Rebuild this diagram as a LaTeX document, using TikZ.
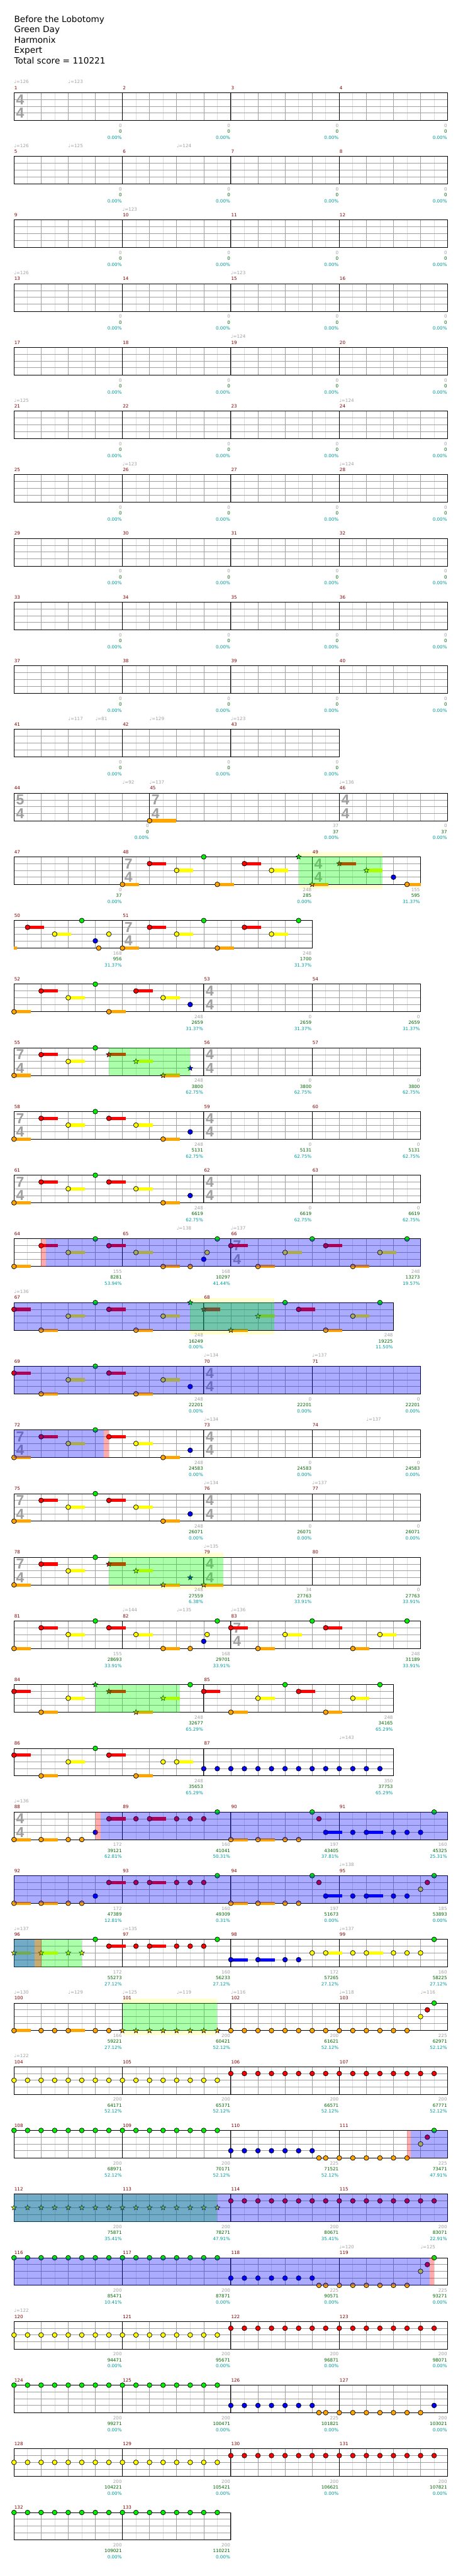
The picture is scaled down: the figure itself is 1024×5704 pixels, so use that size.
\documentclass[tikz,border=0pt]{standalone}
\usepackage{fontspec}
\setmainfont{DejaVu Sans}
\newfontfamily\sigfont{Liberation Sans}
\usetikzlibrary{shapes.geometric}
\definecolor{cG}{RGB}{0,240,0}
\definecolor{cR}{RGB}{255,0,0}
\definecolor{cY}{RGB}{255,255,0}
\definecolor{cB}{RGB}{0,0,255}
\definecolor{cO}{RGB}{255,165,0}
\definecolor{mnc}{RGB}{128,0,0}
\definecolor{gtx}{RGB}{160,160,160}
\definecolor{grtx}{RGB}{0,100,0}
\definecolor{ttx}{RGB}{0,155,155}
\definecolor{lgr}{RGB}{220,220,220}
\definecolor{bgr}{RGB}{160,160,160}
\definecolor{paleY}{RGB}{255,255,208}
\def\LG{0}\def\LR{15}\def\LY{30}\def\LB{45}\def\LO{61}
\tikzset{
 lgrid/.style={lgr,line width=0.5pt},
 bgrid/.style={bgr,line width=0.5pt},
 mline/.style={black,line width=0.65pt},
 nout/.style={draw=black,line width=0.5pt},
 starn/.style={star,star points=5,star point ratio=2.3,minimum size=6pt,inner sep=0pt,draw=black,line width=0.4pt},
 mnum/.style={anchor=base west,inner sep=0pt,text=mnc,font=\fontsize{5}{6}\selectfont},
 tmp/.style={anchor=base west,inner sep=0pt,text=gtx,font=\fontsize{5}{6}\selectfont},
 sg/.style={anchor=base east,inner sep=0pt,font=\fontsize{5}{6}\selectfont},
 tsd/.style={inner sep=0pt,text=gtx,font=\sigfont\bfseries\fontsize{16}{16}\selectfont},
 hdr/.style={anchor=base west,inner sep=0pt,font=\fontsize{9.5}{11}\selectfont},
}
\newcommand\setrow[1]{\pgfmathsetmacro\rT{205.3+141*(#1-1)}}
\newcommand\staff[2]{%
  \fill[white] (31,\rT) rectangle (#1,\rT+61);
  \pgfmathtruncatemacro\nb{(#1-31)/60}
  \foreach \i in {1,...,\nb} {\draw[lgrid] ({31+60*\i-30},\rT) -- ++(0,61);}
  \foreach \i in {1,...,\nb} {\draw[bgrid] ({31+60*\i},\rT) -- ++(0,61);}
  \foreach \yy in {15,30,45} {\draw[bgrid] (31,\rT+\yy) -- (#1,\rT+\yy);}
  \foreach \xx in {#2} {\draw[mline] (\xx,\rT) -- ++(0,61);}
  \draw[mline] (31,\rT) rectangle (#1,\rT+61);}
\newcommand\mn[2]{\node[mnum] at (#1+0.5,\rT-7.3) {#2};}
\newcommand\mfour[4]{\mn{31}{#1}\mn{271}{#2}\mn{511}{#3}\mn{751}{#4}}
\newcommand\tp[2]{\node[tmp] at (#1,\rT-20.3) {♩=#2};}
\newcommand\sco[4]{\node[sg,text=gtx] at (#1-1,\rT+76.1) {#2};\node[sg,text=grtx] at (#1-1,\rT+89.1) {#3};\node[sg,text=ttx] at (#1-1,\rT+102.6) {#4\%};}
\newcommand\ts[3]{\node[tsd] at (#1+13.5,\rT+15) {#2};\node[tsd] at (#1+13.5,\rT+45) {#3};}
\newcommand\nt[2]{\filldraw[fill=c#2,nout] ({31+60*(#1)},{\rT+\csname L#2\endcsname}) circle[radius=2.65pt];}
\newcommand\ns[3]{\fill[c#2] ({31+60*(#1)},{\rT+\csname L#2\endcsname-3.5}) rectangle ++(#3,7);\nt{#1}{#2}}
\newcommand\sr[2]{\node[starn,fill=c#2] at ({31+60*(#1)},{\rT+\csname L#2\endcsname}) {};}
\newcommand\ssr[3]{\fill[c#2] ({31+60*(#1)},{\rT+\csname L#2\endcsname-3.5}) rectangle ++(#3,7);\sr{#1}{#2}}
\newcommand\ovl[3]{\fill[#3,opacity=0.33] (#1,\rT) rectangle (#2,\rT+61);}
\newcommand\pale[2]{\fill[paleY] (#1,\rT-10) rectangle (#2,\rT+71);}
\newcommand\riffA{\ns{0}{O}{37}\ns{1}{R}{37}\ns{2}{Y}{37}\nt{3}{G}\ns{3.5}{R}{37}\ns{4.5}{Y}{37}\ns{5.5}{O}{37}\nt{6.5}{B}}
\newcommand\riffB{\ns{0}{O}{37}\ns{1}{R}{37}\ns{2}{Y}{37}\nt{3}{G}\ns{3.5}{R}{37}\ns{4.5}{Y}{37}\ns{5.5}{O}{37}\nt{6.5}{O}\nt{7}{B}\nt{7.125}{Y}\nt{7.5}{G}}
\newcommand\riffC[1]{\ns{#1}{R}{37}\ns{#1+1}{O}{37}\ns{#1+2}{Y}{37}\nt{#1+3}{G}\ns{#1+3.5}{R}{37}\ns{#1+4.5}{O}{37}\ns{#1+5.5}{Y}{37}\nt{#1+6.5}{G}}
\newcommand\zrow{\sco{271}{0}{0}{0.00}\sco{511}{0}{0}{0.00}\sco{751}{0}{0}{0.00}\sco{991}{0}{0}{0.00}}
\newcommand\std{\staff{991}{271,511,751}}
\newcommand\sev{\staff{931}{451,691}\ts{31}{7}{4}\ts{451}{4}{4}}
\begin{document}
\begin{tikzpicture}[x=0.5pt,y=-0.5pt]
\useasboundingbox (0,0) rectangle (1024,5704);
\fill[white] (0,0) rectangle (1024,5704);
\node[hdr] (t1) at (31,49.3) {Before the Lobotomy};
\node[hdr] (t2) at (31,72.3) {Green Day};
\node[hdr] (t3) at (31,95.3) {Harmonix};
\node[hdr] (t4) at (31,118.3) {Expert};
\node[hdr] (t5) at (31,141) {Total score = 110221};
% rows 1-10
\setrow{1}\std\ts{31}{4}{4}\mfour{1}{2}{3}{4}\tp{31}{126}\tp{151}{123}\zrow
\setrow{2}\std\mfour{5}{6}{7}{8}\tp{31}{126}\tp{151}{125}\tp{391}{124}\zrow
\setrow{3}\std\mfour{9}{10}{11}{12}\tp{271}{123}\zrow
\setrow{4}\std\mfour{13}{14}{15}{16}\tp{31}{126}\tp{511}{123}\zrow
\setrow{5}\std\mfour{17}{18}{19}{20}\tp{511}{124}\zrow
\setrow{6}\std\mfour{21}{22}{23}{24}\tp{31}{125}\tp{751}{124}\zrow
\setrow{7}\std\mfour{25}{26}{27}{28}\tp{271}{123}\tp{751}{124}\zrow
\setrow{8}\std\mfour{29}{30}{31}{32}\zrow
\setrow{9}\std\mfour{33}{34}{35}{36}\zrow
\setrow{10}\std\mfour{37}{38}{39}{40}\zrow
% row 11
\setrow{11}\staff{751}{271,511}\mn{31}{41}\mn{271}{42}\mn{511}{43}
\tp{151}{117}\tp{211}{81}\tp{331}{129}\tp{511}{123}
\sco{271}{0}{0}{0.00}\sco{511}{0}{0}{0.00}\sco{751}{0}{0}{0.00}
% row 12
\setrow{12}\staff{991}{331,751}\ts{31}{5}{4}\ts{331}{7}{4}\ts{751}{4}{4}
\mn{31}{44}\mn{331}{45}\mn{751}{46}\tp{271}{92}\tp{331}{137}\tp{751}{136}
\ns{5}{O}{59}
\sco{331}{0}{0}{0.00}\sco{751}{37}{37}{0.00}\sco{991}{0}{37}{0.00}
% row 13
\setrow{13}\pale{661}{847}\staff{931}{271,691}\ts{271}{7}{4}\ts{691}{4}{4}
\mn{31}{47}\mn{271}{48}\mn{691}{49}
\ns{4}{O}{37}\ns{5}{R}{37}\ns{6}{Y}{37}\nt{7}{G}\ns{7.5}{O}{37}\ns{8.5}{R}{37}\ns{9.5}{Y}{37}
\sr{10.5}{G}\ssr{11}{O}{36}\ssr{12}{R}{37}\ssr{13}{Y}{36}\nt{14}{B}\ns{14.5}{O}{30}
\ovl{661}{847}{green}
\sco{271}{0}{37}{0.00}\sco{691}{248}{285}{0.00}\sco{931}{155}{595}{31.37}
% row 14
\setrow{14}\staff{691}{271}\ts{271}{7}{4}\mn{31}{50}\mn{271}{51}
\fill[cO] (31,\rT+57.5) rectangle (37,\rT+64.5);
\ns{0.5}{R}{37}\ns{1.5}{Y}{37}\nt{2.5}{G}\nt{3}{B}\nt{3.125}{O}\nt{3.5}{Y}
\ns{4}{O}{37}\ns{5}{R}{37}\ns{6}{Y}{37}\nt{7}{G}\ns{7.5}{O}{37}\ns{8.5}{R}{37}\ns{9.5}{Y}{37}\nt{10.5}{G}
\sco{271}{168}{956}{31.37}\sco{691}{248}{1700}{31.37}
% row 15
\setrow{15}\staff{931}{451,691}\ts{451}{4}{4}\mn{31}{52}\mn{451}{53}\mn{691}{54}
\ns{0}{O}{37}\ns{1}{R}{37}\ns{2}{Y}{37}\nt{3}{G}\ns{3.5}{O}{37}\ns{4.5}{R}{37}\ns{5.5}{Y}{37}\nt{6.5}{B}
\sco{451}{248}{2659}{31.37}\sco{691}{0}{2659}{31.37}\sco{931}{0}{2659}{31.37}
% row 16
\setrow{16}\sev\mn{31}{55}\mn{451}{56}\mn{691}{57}
\ns{0}{O}{37}\ns{1}{R}{37}\ns{2}{Y}{37}\nt{3}{G}\ssr{3.5}{R}{37}\ssr{4.5}{Y}{37}\ssr{5.5}{O}{37}\sr{6.5}{B}
\ovl{241}{421}{green}
\sco{451}{248}{3800}{62.75}\sco{691}{0}{3800}{62.75}\sco{931}{0}{3800}{62.75}
% row 17
\setrow{17}\sev\mn{31}{58}\mn{451}{59}\mn{691}{60}\riffA
\sco{451}{248}{5131}{62.75}\sco{691}{0}{5131}{62.75}\sco{931}{0}{5131}{62.75}
% row 18
\setrow{18}\sev\mn{31}{61}\mn{451}{62}\mn{691}{63}\riffA
\sco{451}{248}{6619}{62.75}\sco{691}{0}{6619}{62.75}\sco{931}{0}{6619}{62.75}
% row 19
\setrow{19}\staff{931}{271,511}\ts{511}{7}{4}\mn{31}{64}\mn{271}{65}\mn{511}{66}
\tp{391}{138}\tp{511}{137}
\riffB\riffC{8}
\ovl{91}{101}{red}\ovl{101}{931}{blue}
\sco{271}{155}{8281}{53.94}\sco{511}{168}{10297}{41.44}\sco{931}{248}{13273}{19.57}
% row 20
\setrow{20}\pale{421}{607.5}\staff{871}{451}\mn{31}{67}\mn{451}{68}\tp{31}{136}
\ns{0}{R}{37}\ns{1}{O}{37}\ns{2}{Y}{37}\nt{3}{G}\ns{3.5}{R}{37}\ns{4.5}{O}{37}\ns{5.5}{Y}{37}
\sr{6.5}{G}\ssr{7}{R}{37}\ssr{8}{O}{37}\ssr{9}{Y}{37}\nt{10}{G}\ns{10.5}{R}{37}\ns{11.5}{O}{37}\ns{12.5}{Y}{37}\nt{13.5}{G}
\ovl{31}{871}{blue}\ovl{421}{607.5}{green}
\sco{451}{248}{16249}{0.00}\sco{871}{248}{19225}{11.50}
% row 21
\setrow{21}\staff{931}{451,691}\ts{451}{4}{4}\mn{31}{69}\mn{451}{70}\mn{691}{71}
\tp{451}{134}\tp{691}{137}
\ns{0}{R}{37}\ns{1}{O}{37}\ns{2}{Y}{37}\nt{3}{G}\ns{3.5}{R}{37}\ns{4.5}{O}{37}\ns{5.5}{Y}{37}\nt{6.5}{B}
\ovl{31}{931}{blue}
\sco{451}{248}{22201}{0.00}\sco{691}{0}{22201}{0.00}\sco{931}{0}{22201}{0.00}
% row 22
\setrow{22}\sev\mn{31}{72}\mn{451}{73}\mn{691}{74}\tp{451}{134}\tp{811}{137}
\riffA
\ovl{31}{230}{blue}\ovl{230}{241}{red}
\sco{451}{248}{24583}{0.00}\sco{691}{0}{24583}{0.00}\sco{931}{0}{24583}{0.00}
% row 23
\setrow{23}\sev\mn{31}{75}\mn{451}{76}\mn{691}{77}\tp{451}{134}\tp{691}{137}
\riffA
\sco{451}{248}{26071}{0.00}\sco{691}{0}{26071}{0.00}\sco{931}{0}{26071}{0.00}
% row 24
\setrow{24}\pale{241}{494}\sev\mn{31}{78}\mn{451}{79}\mn{691}{80}\tp{451}{135}
\ns{0}{O}{37}\ns{1}{R}{37}\ns{2}{Y}{37}\nt{3}{G}\ssr{3.5}{R}{37}\ssr{4.5}{Y}{37}\ssr{5.5}{O}{37}\sr{6.5}{B}\ssr{7}{O}{43}
\ovl{241}{494}{green}
\sco{451}{248}{27559}{6.38}\sco{691}{34}{27763}{33.91}\sco{931}{0}{27763}{33.91}
% row 25
\setrow{25}\staff{931}{271,511}\ts{511}{7}{4}\mn{31}{81}\mn{271}{82}\mn{511}{83}
\tp{271}{144}\tp{391}{135}\tp{511}{136}
\riffB\riffC{8}
\sco{271}{155}{28693}{33.91}\sco{511}{168}{29701}{33.91}\sco{931}{248}{31189}{33.91}
% row 26
\setrow{26}\staff{871}{451}\mn{31}{84}\mn{451}{85}
\ns{0}{R}{37}\ns{1}{O}{37}\ns{2}{Y}{37}\sr{3}{G}\ssr{3.5}{R}{37}\ssr{4.5}{O}{37}\ssr{5.5}{Y}{37}\nt{6.5}{G}\riffC{7}
\ovl{211}{398}{green}
\sco{451}{248}{32677}{65.29}\sco{871}{248}{34165}{65.29}
% row 27
\setrow{27}\staff{871}{451}\mn{31}{86}\mn{451}{87}\tp{751}{143}
\ns{0}{R}{37}\ns{1}{O}{37}\ns{2}{Y}{37}\nt{3}{G}\ns{3.5}{R}{37}\ns{4.5}{O}{37}\nt{5.5}{Y}\ns{6}{Y}{37}
\foreach \b in {7,7.5,...,13.5} {\nt{\b}{B}}
\sco{451}{248}{35653}{65.29}\sco{871}{350}{37753}{65.29}
% row 28
\setrow{28}\std\ts{31}{4}{4}\mfour{88}{89}{90}{91}\tp{31}{136}
\ns{0}{O}{37}\ns{1}{O}{37}\nt{2}{O}\nt{2.5}{O}\nt{3}{B}\ns{3.5}{R}{37}\nt{4.5}{R}\ns{5}{R}{37}\nt{6}{R}\nt{6.5}{R}\nt{7}{R}\nt{7.5}{G}
\ns{8}{O}{37}\ns{9}{O}{37}\nt{10}{O}\nt{10.5}{O}\nt{11}{G}\nt{11.25}{R}\ns{11.5}{B}{37}\nt{12.5}{B}\ns{13}{B}{37}\nt{14}{B}\nt{14.5}{B}\nt{15}{B}\nt{15.5}{G}
\ovl{211}{222.7}{red}\ovl{222.7}{991}{blue}
\sco{271}{172}{39121}{62.81}\sco{511}{160}{41041}{50.31}\sco{751}{197}{43405}{37.81}\sco{991}{160}{45325}{25.31}
% row 29
\setrow{29}\std\mfour{92}{93}{94}{95}\tp{751}{138}
\ns{0}{O}{37}\ns{1}{O}{37}\nt{2}{O}\nt{2.5}{O}\nt{3}{B}\ns{3.5}{R}{37}\nt{4.5}{R}\ns{5}{R}{37}\nt{6}{R}\nt{6.5}{R}\nt{7}{R}\nt{7.5}{G}
\ns{8}{O}{37}\ns{9}{O}{37}\nt{10}{O}\nt{10.5}{O}\nt{11}{G}\nt{11.25}{R}\ns{11.5}{B}{37}\nt{12.5}{B}\ns{13}{B}{37}\nt{14}{B}\nt{14.5}{B}\nt{15}{Y}\nt{15.25}{R}\nt{15.5}{G}
\ovl{31}{991}{blue}
\sco{271}{172}{47389}{12.81}\sco{511}{160}{49309}{0.31}\sco{751}{197}{51673}{0.00}\sco{991}{185}{53893}{0.00}
% row 30
\setrow{30}\std\mfour{96}{97}{98}{99}\tp{31}{137}\tp{271}{135}\tp{751}{137}
\ssr{0}{Y}{37}\ssr{1}{Y}{37}\sr{2}{Y}\sr{2.5}{Y}\nt{3}{G}\ns{3.5}{R}{37}\nt{4.5}{R}\ns{5}{R}{37}\nt{6}{R}\nt{6.5}{R}\nt{7}{R}\nt{7.5}{G}
\ns{8}{B}{37}\ns{9}{B}{37}\nt{10}{B}\nt{10.5}{B}\nt{11}{Y}\ns{11.5}{Y}{37}\nt{12.5}{Y}\ns{13}{Y}{37}\nt{14}{Y}\nt{14.5}{Y}\nt{15}{Y}\nt{15.5}{G}
\ovl{31}{181.6}{green}\ovl{31}{77}{blue}\ovl{77}{91.5}{red}
\sco{271}{172}{55273}{27.12}\sco{511}{160}{56233}{27.12}\sco{751}{172}{57265}{27.12}\sco{991}{160}{58225}{27.12}
% row 31
\setrow{31}\pale{271}{481}\std\mfour{100}{101}{102}{103}
\tp{31}{130}\tp{151}{129}\tp{271}{125}\tp{391}{119}\tp{511}{116}\tp{751}{118}\tp{931}{116}
\ns{0}{O}{37}\nt{1}{O}\nt{1.5}{O}\ns{2}{O}{37}\nt{3}{O}\nt{3.5}{O}
\foreach \b in {4,4.5,...,7.5} {\sr{\b}{O}}
\foreach \b in {8,8.5,...,14.5} {\nt{\b}{O}}
\nt{15}{Y}\nt{15.25}{R}\nt{15.5}{G}
\ovl{271}{481}{green}
\sco{271}{166}{59221}{27.12}\sco{511}{200}{60421}{52.12}\sco{751}{200}{61621}{52.12}\sco{991}{225}{62971}{52.12}
% row 32
\setrow{32}\std\mfour{104}{105}{106}{107}\tp{31}{122}
\foreach \b in {0,0.5,...,7.5} {\nt{\b}{Y}}
\foreach \b in {8,8.5,...,15.5} {\nt{\b}{R}}
\sco{271}{200}{64171}{52.12}\sco{511}{200}{65371}{52.12}\sco{751}{200}{66571}{52.12}\sco{991}{200}{67771}{52.12}
% row 33
\setrow{33}\std\mfour{108}{109}{110}{111}
\foreach \b in {0,0.5,...,7.5} {\nt{\b}{G}}
\foreach \b in {8,8.5,...,11} {\nt{\b}{B}}
\nt{11.25}{O}\foreach \b in {11.5,12,...,14.5} {\nt{\b}{O}}
\nt{15}{Y}\nt{15.25}{R}\nt{15.5}{G}
\ovl{901}{909}{red}\ovl{909}{991}{blue}
\sco{271}{200}{68971}{52.12}\sco{511}{200}{70171}{52.12}\sco{751}{225}{71521}{52.12}\sco{991}{225}{73471}{47.91}
% row 34
\setrow{34}\std\mfour{112}{113}{114}{115}
\foreach \b in {0,0.5,...,7.5} {\sr{\b}{Y}}
\foreach \b in {8,8.5,...,15.5} {\nt{\b}{R}}
\ovl{31}{481}{green}\ovl{31}{991}{blue}
\sco{271}{200}{75871}{35.41}\sco{511}{200}{78271}{47.91}\sco{751}{200}{80671}{35.41}\sco{991}{200}{83071}{22.91}
% row 35
\setrow{35}\std\mfour{116}{117}{118}{119}\tp{751}{120}\tp{931}{125}
\foreach \b in {0,0.5,...,7.5} {\nt{\b}{G}}
\foreach \b in {8,8.5,...,11} {\nt{\b}{B}}
\nt{11.25}{O}\foreach \b in {11.5,12,...,14.5} {\nt{\b}{O}}
\nt{15}{Y}\nt{15.25}{R}\nt{15.5}{G}
\ovl{31}{951}{blue}\ovl{951}{961.5}{red}
\sco{271}{200}{85471}{10.41}\sco{511}{200}{87871}{0.00}\sco{751}{225}{90571}{0.00}\sco{991}{225}{93271}{0.00}
% row 36
\setrow{36}\std\mfour{120}{121}{122}{123}\tp{31}{122}
\foreach \b in {0,0.5,...,7.5} {\nt{\b}{Y}}
\foreach \b in {8,8.5,...,15.5} {\nt{\b}{R}}
\sco{271}{200}{94471}{0.00}\sco{511}{200}{95671}{0.00}\sco{751}{200}{96871}{0.00}\sco{991}{200}{98071}{0.00}
% row 37
\setrow{37}\std\mfour{124}{125}{126}{127}
\foreach \b in {0,0.5,...,7.5} {\nt{\b}{G}}
\foreach \b in {8,8.5,...,11} {\nt{\b}{B}}
\nt{11.25}{O}\foreach \b in {11.5,12,...,15} {\nt{\b}{O}}
\nt{15.5}{B}
\sco{271}{200}{99271}{0.00}\sco{511}{200}{100471}{0.00}\sco{751}{225}{101821}{0.00}\sco{991}{200}{103021}{0.00}
% row 38
\setrow{38}\std\mfour{128}{129}{130}{131}
\foreach \b in {0,0.5,...,7.5} {\nt{\b}{Y}}
\foreach \b in {8,8.5,...,15.5} {\nt{\b}{R}}
\sco{271}{200}{104221}{0.00}\sco{511}{200}{105421}{0.00}\sco{751}{200}{106621}{0.00}\sco{991}{200}{107821}{0.00}
% row 39
\setrow{39}\staff{511}{271}\mn{31}{132}\mn{271}{133}
\foreach \b in {0,0.5,...,7.5} {\nt{\b}{G}}
\sco{271}{200}{109021}{0.00}\sco{511}{200}{110221}{0.00}
\end{tikzpicture}
\end{document}
